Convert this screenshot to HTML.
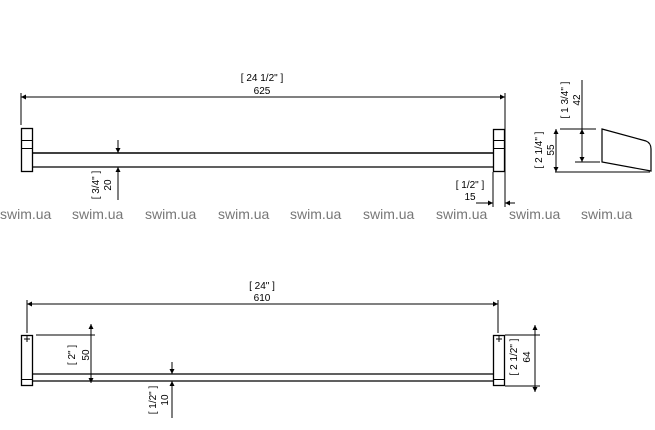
<!DOCTYPE html>
<html><head><style>
html,body{margin:0;padding:0;background:#fff;}
svg{display:block;font-family:"Liberation Sans",sans-serif;}
</style></head><body>
<svg width="655" height="430" viewBox="0 0 655 430" xmlns="http://www.w3.org/2000/svg">
<defs>
<marker id="a" viewBox="0 0 10 10" refX="10" refY="5" markerWidth="7" markerHeight="5" orient="auto-start-reverse" markerUnits="userSpaceOnUse"><path d="M0,0L10,5L0,10z" fill="#000"/></marker>
</defs>
<g stroke="#000" fill="none" stroke-width="1">
<!-- TOP VIEW -->
<line x1="21" y1="97" x2="505" y2="97" marker-start="url(#a)" marker-end="url(#a)"/>
<line x1="21" y1="93" x2="21" y2="125"/>
<line x1="505" y1="93" x2="505" y2="207"/>
<rect x="21.5" y="128.5" width="11" height="43" stroke-width="1.3"/>
<line x1="21" y1="140.5" x2="33" y2="140.5"/><line x1="21" y1="148.5" x2="33" y2="148.5"/>
<rect x="493.5" y="129.5" width="11" height="42" stroke-width="1.3"/>
<line x1="493" y1="140.5" x2="505" y2="140.5"/><line x1="493" y1="148.5" x2="505" y2="148.5"/>
<line x1="33" y1="153" x2="493" y2="153" stroke-width="1.6"/>
<line x1="33" y1="167" x2="493" y2="167" stroke-width="1.3"/>
<line x1="118" y1="140" x2="118" y2="153" marker-end="url(#a)"/>
<line x1="118" y1="200" x2="118" y2="167" marker-end="url(#a)"/>
<line x1="493" y1="172" x2="493" y2="207"/>
<line x1="476" y1="203" x2="493" y2="203" marker-end="url(#a)"/>
<line x1="515" y1="203" x2="505" y2="203" marker-end="url(#a)"/>
<!-- side profile -->
<path d="M602,129 L646,141 Q651,143 651,149 L651,171 L602,162 Z" stroke-width="1.2"/>
<line x1="560" y1="129" x2="596" y2="129"/>
<line x1="555" y1="172" x2="650" y2="172"/>
<line x1="575" y1="162" x2="600" y2="162"/>
<line x1="556" y1="129" x2="556" y2="172" marker-start="url(#a)" marker-end="url(#a)"/>
<line x1="582" y1="80" x2="582" y2="129"/>
<line x1="582" y1="129" x2="582" y2="162" marker-start="url(#a)" marker-end="url(#a)"/>
<!-- BOTTOM VIEW -->
<line x1="27" y1="304" x2="498" y2="304" marker-start="url(#a)" marker-end="url(#a)"/>
<line x1="27" y1="300" x2="27" y2="333"/>
<line x1="498" y1="300" x2="498" y2="333"/>
<rect x="21.5" y="335.5" width="11" height="50" stroke-width="1.3"/>
<line x1="21" y1="379.5" x2="33" y2="379.5"/>
<line x1="24" y1="339" x2="30" y2="339"/><line x1="27" y1="336" x2="27" y2="342"/>
<rect x="493.5" y="335.5" width="11" height="50" stroke-width="1.3"/>
<line x1="493" y1="379.5" x2="505" y2="379.5"/>
<line x1="496" y1="339" x2="502" y2="339"/><line x1="499" y1="336" x2="499" y2="342"/>
<line x1="33" y1="374" x2="493" y2="374" stroke-width="1.3"/>
<line x1="33" y1="381" x2="493" y2="381" stroke-width="1.3"/>
<line x1="36" y1="335" x2="95" y2="335"/>
<line x1="91" y1="324" x2="91" y2="383" marker-start="url(#a)" marker-end="url(#a)"/>
<line x1="172" y1="362" x2="172" y2="374" marker-end="url(#a)"/>
<line x1="172" y1="418" x2="172" y2="381" marker-end="url(#a)"/>
<line x1="505" y1="335" x2="540" y2="335"/>
<line x1="505" y1="386" x2="540" y2="386"/>
<line x1="535" y1="325" x2="535" y2="392" marker-start="url(#a)" marker-end="url(#a)"/>
</g>
<g font-size="10" fill="#000" text-anchor="middle">
<text x="262" y="81">[ 24 1/2" ]</text>
<text x="262" y="94">625</text>
<text x="262" y="289">[ 24" ]</text>
<text x="262" y="301">610</text>
<text x="470" y="188">[ 1/2" ]</text>
<text x="470" y="200">15</text>
<text transform="translate(99,185) rotate(-90)">[ 3/4" ]</text>
<text transform="translate(111,185) rotate(-90)">20</text>
<text transform="translate(542,150) rotate(-90)">[ 2 1/4" ]</text>
<text transform="translate(554,150) rotate(-90)">55</text>
<text transform="translate(568,100) rotate(-90)">[ 1 3/4" ]</text>
<text transform="translate(580,100) rotate(-90)">42</text>
<text transform="translate(75,355) rotate(-90)">[ 2" ]</text>
<text transform="translate(89,355) rotate(-90)">50</text>
<text transform="translate(156,400) rotate(-90)">[ 1/2" ]</text>
<text transform="translate(168,400) rotate(-90)">10</text>
<text transform="translate(517,357) rotate(-90)">[ 2 1/2" ]</text>
<text transform="translate(530,357) rotate(-90)">64</text>
</g>
<g font-size="14" fill="#777">
<text x="0" y="219">swim.ua</text>
<text x="72" y="219">swim.ua</text>
<text x="145" y="219">swim.ua</text>
<text x="218" y="219">swim.ua</text>
<text x="290" y="219">swim.ua</text>
<text x="363" y="219">swim.ua</text>
<text x="436" y="219">swim.ua</text>
<text x="509" y="219">swim.ua</text>
<text x="581" y="219">swim.ua</text>
</g>
</svg>
</body></html>
